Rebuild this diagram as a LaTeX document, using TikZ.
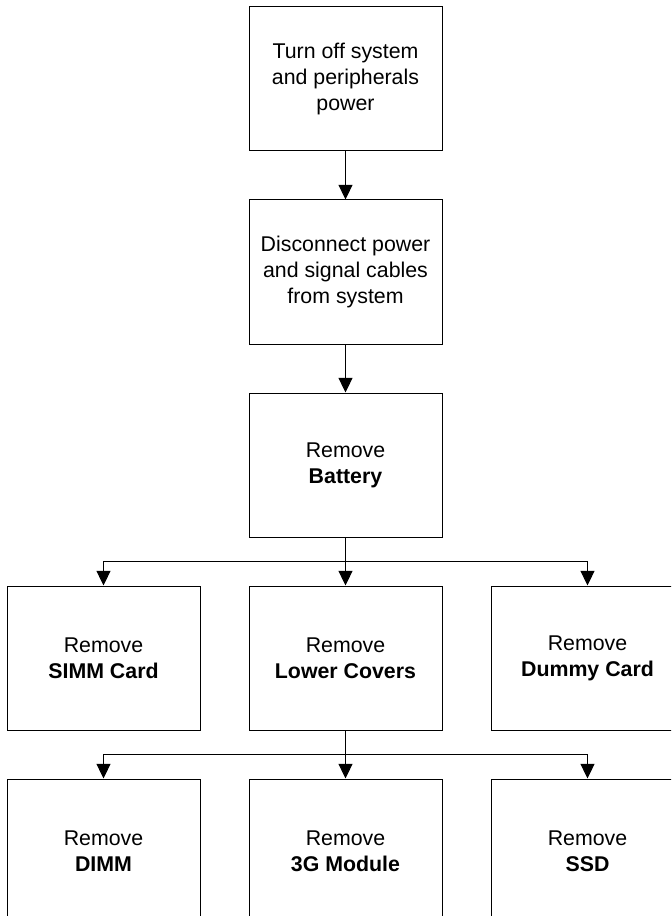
\documentclass[tikz,border=0pt]{standalone}
\usepackage{fontspec}
\setmainfont{Liberation Sans}
\usetikzlibrary{arrows.meta,positioning}
\tikzset{
  stepbox/.style={draw, line width=0.75pt, minimum width=144.75pt, minimum height=108pt,
    align=center, inner sep=0pt, font=\fontsize{16}{19.5}\selectfont},
  flow/.style={-{Triangle[length=11pt, width=10.5pt]}, line width=0.75pt},
}

\begin{document}
\begin{tikzpicture}[x=0.75pt, y=-0.75pt, node distance=36pt]

  % Page frame (boxes at the right and bottom run off the page)
  \useasboundingbox (0,0) rectangle (671,916);
  \clip (0,0) rectangle (671,916);

  % Preparation steps
  \node[stepbox] (turnoff) at (345.5,79) {Turn off system\\and peripherals\\power};
  \node[stepbox, below=of turnoff] (disconnect) {Disconnect power\\and signal cables\\from system};
  \node[stepbox, below=of disconnect] (battery) {Remove\\\textbf{Battery}};

  % First row of removals
  \node[stepbox, below=of battery] (covers) {Remove\\\textbf{Lower Covers}};
  \node[stepbox, left=of covers] (simm) {Remove\\\textbf{SIMM Card}};
  \node[stepbox, right=of covers] (dummy) {Remove\\\textbf{Dummy Card}};

  % Second row of removals
  \node[stepbox, below=of covers] (module) {Remove\\\textbf{3G Module}};
  \node[stepbox, left=of module] (dimm) {Remove\\\textbf{DIMM}};
  \node[stepbox, right=of module] (ssd) {Remove\\\textbf{SSD}};

  % Connectors
  \draw[flow] (turnoff) -- (disconnect);
  \draw[flow] (disconnect) -- (battery);
  \draw[flow] (battery) -- (covers);
  \draw[flow] (battery.south) -- ++(0,24) -| (simm.north);
  \draw[flow] (battery.south) -- ++(0,24) -| (dummy.north);
  \draw[flow] (covers) -- (module);
  \draw[flow] (covers.south) -- ++(0,24) -| (dimm.north);
  \draw[flow] (covers.south) -- ++(0,24) -| (ssd.north);

\end{tikzpicture}
\end{document}
